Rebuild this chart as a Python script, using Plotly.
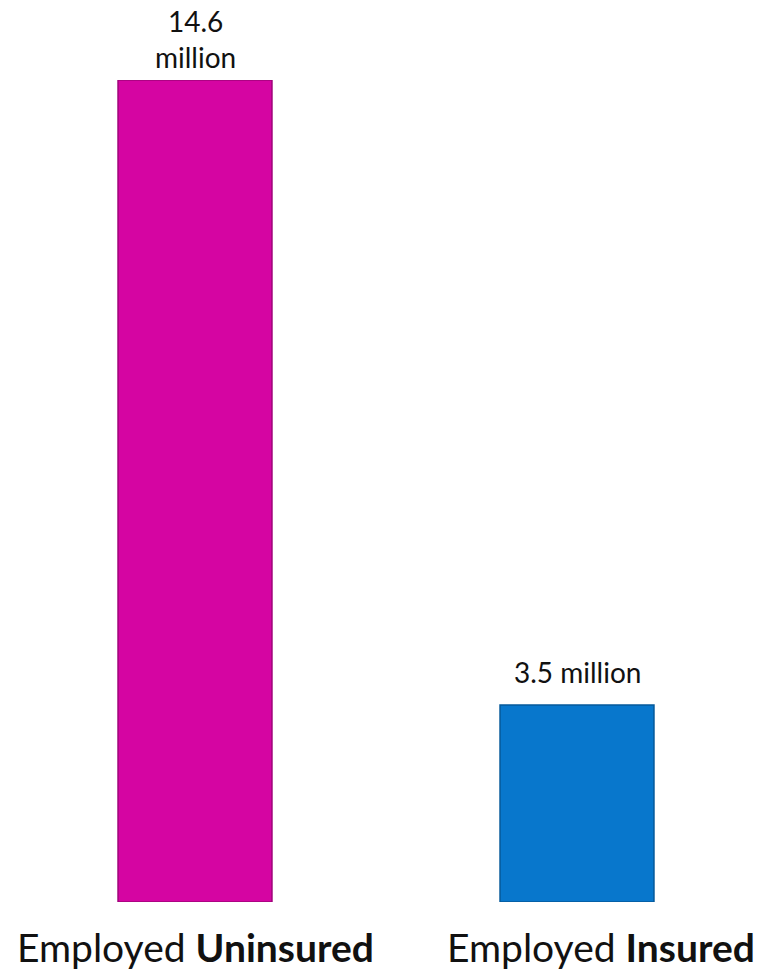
import plotly.graph_objects as go

categories = ["Employed Uninsured", "Employed Insured"]
tick_labels = ["Employed <b>Uninsured</b>", "Employed <b>Insured</b>"]
tick_shift = [0, 24]
values = [14.6, 3.5]
value_labels = ["14.6<br>million", "3.5 million"]
label_shift = [4, 14]
colors = ["#D505A2", "#0877CC"]
edge_colors = ["#A0037A", "#05599A"]

font_family = "Lato, Open Sans, sans-serif"

fig = go.Figure()
fig.add_trace(go.Bar(
    x=categories, y=values,
    marker=dict(color=colors, line=dict(color=edge_colors, width=1.5)),
    width=0.403,
    hoverinfo="skip",
))

for c, v, t, s in zip(categories, values, value_labels, label_shift):
    fig.add_annotation(x=c, y=v, text=t, showarrow=False, yanchor="bottom",
                       yshift=s, font=dict(family=font_family, size=28, color="#111111"))

for c, t, s in zip(categories, tick_labels, tick_shift):
    fig.add_annotation(x=c, y=0, yref="paper", text=t, showarrow=False,
                       yanchor="top", yshift=-20, xshift=s,
                       font=dict(family=font_family, size=39, color="#111111"))

fig.update_layout(
    width=782, height=976,
    margin=dict(l=4, r=14, t=80, b=74),
    paper_bgcolor="white", plot_bgcolor="white",
    showlegend=False,
    xaxis=dict(showticklabels=False, showline=False, showgrid=False, zeroline=False,
               ticks="", range=[-0.5, 1.5]),
    yaxis=dict(visible=False, range=[0, 14.6], showgrid=False, zeroline=False),
)

fig.write_html("out.html")
